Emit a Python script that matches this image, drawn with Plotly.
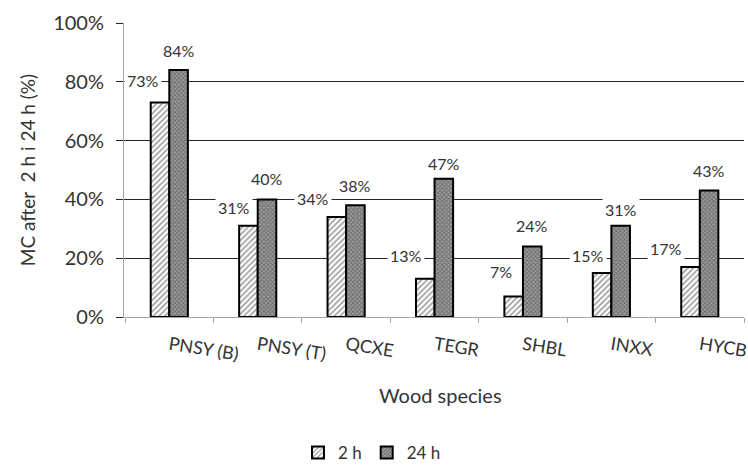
import plotly.graph_objects as go

categories = ["PNSY (B)", "PNSY (T)", "QCXE", "TEGR", "SHBL", "INXX", "HYCB"]
mc_2h = [0.73, 0.31, 0.34, 0.13, 0.07, 0.15, 0.17]
mc_24h = [0.84, 0.40, 0.38, 0.47, 0.24, 0.31, 0.43]
series_names = ["2 h", "24 h"]

# label placement offsets (pixels) relative to bar top centre
lbl_dx_2h = [-17, -14, -24, -19, -13, -14, -24]
lbl_dy_2h = [22, 18, 19, 23, 25, 17, 19]
lbl_dy_24h = [20, 21, 20, 15, 21, 16, 20]

FONT = "Lato"
TXT = "#333333"

fig = go.Figure()
fig.add_trace(go.Bar(
    x=categories, y=mc_2h, name=series_names[0],
    marker=dict(color="white", line=dict(color="black", width=2),
                pattern=dict(shape="/", fgcolor="#3a3a3a", bgcolor="white",
                             size=4, solidity=0.4)),
))
fig.add_trace(go.Bar(
    x=categories, y=mc_24h, name=series_names[1],
    marker=dict(color="#999999", line=dict(color="black", width=2),
                pattern=dict(shape="x", fgcolor="#333333", bgcolor="#a0a0a0",
                             size=3, solidity=0.5)),
))

bar_half = 9.3
for i, c in enumerate(categories):
    fig.add_annotation(x=c, y=mc_2h[i], xref="x", yref="y",
                       text=f"{round(mc_2h[i]*100)}%", showarrow=False,
                       xshift=-bar_half + lbl_dx_2h[i], yshift=lbl_dy_2h[i],
                       bgcolor="white", borderpad=2,
                       font=dict(family=FONT, size=16, color=TXT))
    fig.add_annotation(x=c, y=mc_24h[i], xref="x", yref="y",
                       text=f"{round(mc_24h[i]*100)}%", showarrow=False,
                       xshift=bar_half, yshift=lbl_dy_24h[i],
                       bgcolor="white", borderpad=2,
                       font=dict(family=FONT, size=16, color=TXT))

# x-axis title placed as text under the tick labels
fig.add_annotation(x=0.51, y=-0.265, xref="paper", yref="paper",
                   text="Wood species", showarrow=False,
                   xanchor="center", yanchor="middle",
                   font=dict(family=FONT, size=20, color=TXT))

fig.update_layout(
    width=748, height=466,
    margin=dict(l=124, r=4, t=23, b=149, autoexpand=False),
    paper_bgcolor="white", plot_bgcolor="white",
    barmode="group", bargap=0.58, bargroupgap=0,
    font=dict(family=FONT, color=TXT),
    showlegend=True,
    legend=dict(orientation="h", x=0.40, xanchor="center", y=-0.462, yanchor="middle",
                font=dict(family=FONT, size=17, color=TXT), itemwidth=30,
                tracegroupgap=0),
    xaxis=dict(
        type="category", automargin=False, showline=True, linecolor="#a6a6a6", linewidth=1,
        ticks="outside", tickson="boundaries", ticklen=5, tickcolor="#a6a6a6",
        tickangle=9, ticklabelstandoff=10,
        tickfont=dict(family=FONT, size=18, color=TXT),
        showgrid=False,
    ),
    yaxis=dict(
        range=[0, 1], dtick=0.2, tickformat=".0%", automargin=False,
        showline=True, linecolor="#a6a6a6", linewidth=1,
        showgrid=True, gridcolor="#262626", gridwidth=1, zeroline=False,
        ticks="outside", ticklen=7, tickcolor="#262626", ticklabelstandoff=8,
        tickfont=dict(family=FONT, size=20, color=TXT),
        title=dict(text="MC after  2 h i 24 h (%)", font=dict(family=FONT, size=19, color=TXT), standoff=12),
    ),
)

fig.write_html("out.html", config={"displayModeBar": False},
               post_script="document.body.style.margin='0';")
